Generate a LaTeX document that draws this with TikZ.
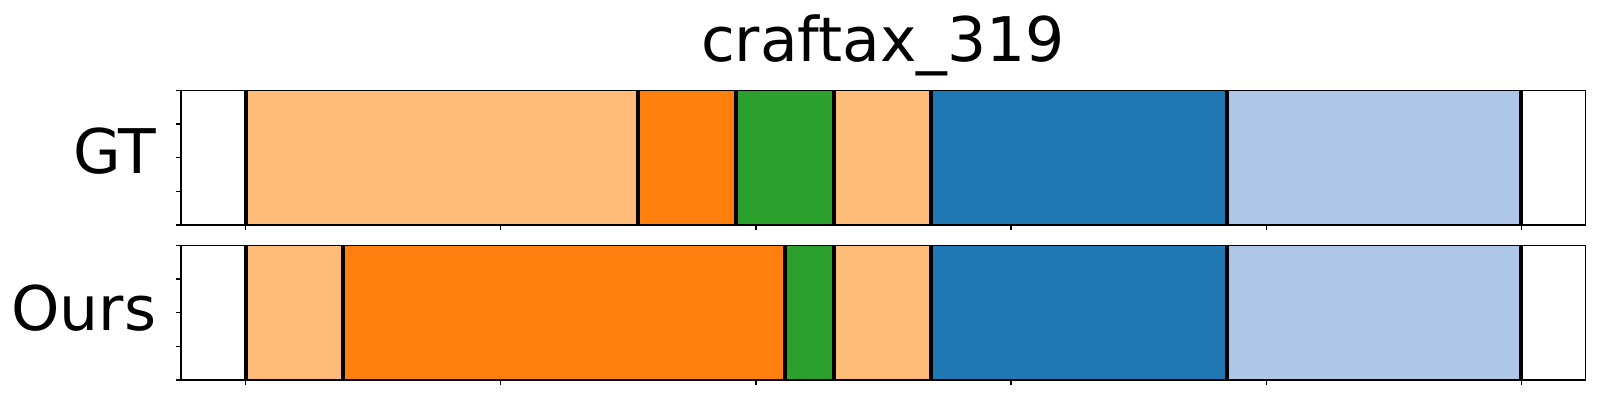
\documentclass[tikz,border=0pt]{standalone}
\usepackage{fontspec}
\setmainfont{DejaVu Sans}
\definecolor{lorange}{HTML}{FFBB78}
\definecolor{dorange}{HTML}{FF7F0E}
\definecolor{tgreen}{HTML}{2CA02C}
\definecolor{tblue}{HTML}{1F77B4}
\definecolor{lblue}{HTML}{AEC7E8}
\tikzset{
  bound/.style = {line width=0.04cm, black},
  spine/.style = {line width=0.35pt, black},
  lab/.style = {font=\fontsize{17.5pt}{20pt}\selectfont, inner sep=0pt}
}
\begin{document}
\begin{tikzpicture}[x=0.01cm,y=0.01cm]
	\useasboundingbox (0,0) rectangle (1600,400);
	% GT row
	\fill[lorange] (245.5,175) rectangle (637.7,309.7);
	\fill[dorange] (637.7,175) rectangle (736,309.7);
	\fill[tgreen] (736,175) rectangle (834,309.7);
	\fill[lorange] (834,175) rectangle (930.6,309.7);
	\fill[tblue] (930.6,175) rectangle (1226.7,309.7);
	\fill[lblue] (1226.7,175) rectangle (1521,309.7);
	\foreach \x in {245.5,637.7,736,834,930.6,1226.7,1521}
		\draw[bound] (\x,175) -- (\x,309.7);
	% Ours row
	\fill[lorange] (245.5,20) rectangle (342.7,154.7);
	\fill[dorange] (342.7,20) rectangle (785,154.7);
	\fill[tgreen] (785,20) rectangle (834,154.7);
	\fill[lorange] (834,20) rectangle (930.6,154.7);
	\fill[tblue] (930.6,20) rectangle (1226.7,154.7);
	\fill[lblue] (1226.7,20) rectangle (1521,154.7);
	\foreach \x in {245.5,342.7,785,834,930.6,1226.7,1521}
		\draw[bound] (\x,20) -- (\x,154.7);
	% axes frames and ticks
	\draw[spine] (181,175) rectangle (1585.3,309.7);
	\draw[spine] (181,20) rectangle (1585.3,154.7);
	\foreach \x in {245.5,500.7,755.9,1011.1,1266.3,1521.5} {
		\draw[spine] (\x,175) -- (\x,170);
		\draw[spine] (\x,20) -- (\x,15);
	}
	\foreach \y in {0,1,2,3,4} {
		\draw[spine] (181,175+\y*33.675) -- (176,175+\y*33.675);
		\draw[spine] (181,20+\y*33.675) -- (176,20+\y*33.675);
	}
	% labels
	\node[lab, anchor=base east] (gt) at (157,226) {GT};
	\node[lab, anchor=base east] (ours) at (157,69) {Ours};
	\node[lab, anchor=base] (title) at (883,338) {craftax\_319};
\end{tikzpicture}
\end{document}
